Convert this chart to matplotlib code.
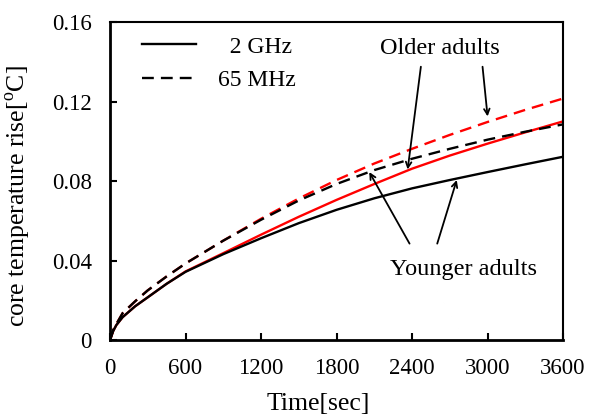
import numpy as np
import matplotlib
matplotlib.use("Agg")
import matplotlib.pyplot as plt

plt.rcParams['font.family'] = ['Liberation Serif', 'DejaVu Serif']
plt.rcParams['mathtext.fontset'] = 'custom'
plt.rcParams['mathtext.rm'] = 'Liberation Serif'

# time [sec]
t = [0, 25, 50, 100, 200, 300, 450, 600, 900, 1200, 1500, 1800, 2100, 2400, 2700, 3000, 3300, 3600]

# core temperature rise [oC]
young_2ghz = [0, 0.0045, 0.0075, 0.0115, 0.017, 0.0215, 0.0283, 0.0343, 0.0432, 0.0512,
              0.0588, 0.0655, 0.0713, 0.0763, 0.0805, 0.0845, 0.0884, 0.0922]
old_2ghz = [0, 0.0045, 0.0075, 0.0115, 0.017, 0.0215, 0.0283, 0.0345, 0.0437, 0.053,
            0.062, 0.0705, 0.0785, 0.0862, 0.0928, 0.0988, 0.1045, 0.110]
young_65mhz = [0, 0.005, 0.008, 0.0135, 0.0195, 0.025, 0.032, 0.0385, 0.050, 0.0605,
               0.0702, 0.0785, 0.0855, 0.0912, 0.0962, 0.1008, 0.1048, 0.1085]
old_65mhz = [0, 0.005, 0.008, 0.0135, 0.0195, 0.025, 0.032, 0.0385, 0.050, 0.061,
             0.0712, 0.0805, 0.0888, 0.0962, 0.1032, 0.1097, 0.1158, 0.1215]

xticks = [0, 600, 1200, 1800, 2400, 3000, 3600]
yticks = [0, 0.04, 0.08, 0.12, 0.16]
ytick_labels = ['0', '0.04', '0.08', '0.12', '0.16']

fig = plt.figure(figsize=(5.89, 4.19), dpi=100)
ax = fig.add_axes([0.1868, 0.1885, 0.7692, 0.759])

dash = (5, 3)
# older adults (red) underneath, younger adults (black) on top
ax.plot(t, old_2ghz, color='red', lw=1.7)
ax.plot(t, old_65mhz, color='red', lw=1.7, dashes=dash)
ax.plot(t, young_2ghz, color='black', lw=1.7, label='  2 GHz')
ax.plot(t, young_65mhz, color='black', lw=1.7, dashes=dash, label='65 MHz')

ax.set_xlim(0, 3600)
ax.set_ylim(0, 0.16)
ax.set_xticks(xticks)
ax.set_xticklabels([str(v) for v in xticks])
ax.set_yticks(yticks)
ax.set_yticklabels(ytick_labels)
ax.tick_params(direction='in', length=5, width=1.5, labelsize=16.5, pad=13,
               top=False, right=False)

for s in ['left', 'bottom']:
    ax.spines[s].set_linewidth(2)
for s in ['top', 'right']:
    ax.spines[s].set_linewidth(1.5)

ax.set_xlabel('Time[sec]', fontsize=18.5)
ax.set_ylabel(r'core temperature rise[$^{\mathrm{o}}$C]', fontsize=18.5)
ax.xaxis.set_label_coords(0.459, -0.168)
ax.yaxis.set_label_coords(-0.17, 0.453)

leg = ax.legend(loc='upper left', frameon=False, fontsize=17, handlelength=2.3,
                handletextpad=0.9, borderaxespad=0.0, labelspacing=0.5,
                bbox_to_anchor=(0.05, 0.985))

arrow = dict(arrowstyle='->', color='black', lw=1.3, shrinkA=0, shrinkB=0)
ax.text(2620, 0.1465, 'Older adults', fontsize=17.5, ha='center', va='center')
ax.annotate('', xy=(2365, 0.0858), xytext=(2470, 0.1375), arrowprops=arrow)
ax.annotate('', xy=(3000, 0.1125), xytext=(2960, 0.1375), arrowprops=arrow)

ax.text(2810, 0.0355, 'Younger adults', fontsize=17.5, ha='center', va='center')
ax.annotate('', xy=(2060, 0.0845), xytext=(2380, 0.0485), arrowprops=arrow)
ax.annotate('', xy=(2755, 0.0805), xytext=(2600, 0.0485), arrowprops=arrow)

fig.savefig('out.png', dpi=100)
